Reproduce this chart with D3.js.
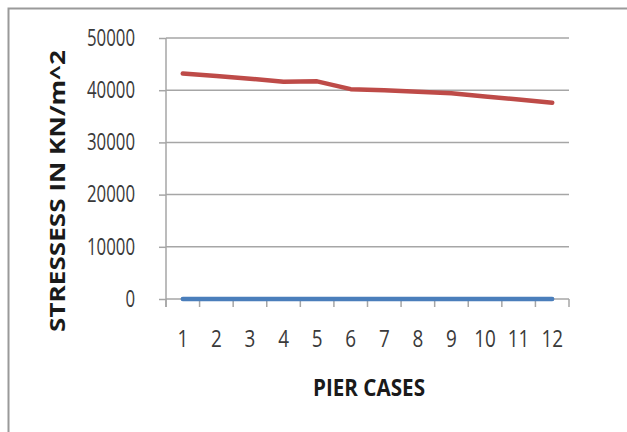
<!DOCTYPE html>
<html>
<head>
<meta charset="utf-8">
<script src="https://cdn.jsdelivr.net/npm/d3@7"></script>
<style>
  html, body { margin: 0; padding: 0; background: #fff; }
  svg { display: block; }
  .tick text { font-family: "Open Sans", sans-serif; fill: #3a3a3a; }
</style>
</head>
<body>
<svg id="chart" width="627" height="432"></svg>
<script>
// Pier cases along the x axis
const categories = ["1", "2", "3", "4", "5", "6", "7", "8", "9", "10", "11", "12"];
// Stress series (KN/m^2)
const seriesA = [43200, 42700, 42200, 41600, 41700, 40200, 40000, 39700, 39400, 38800, 38200, 37600];
const seriesB = [0, 0, 0, 0, 0, 0, 0, 0, 0, 0, 0, 0];
const yTicks = [0, 10000, 20000, 30000, 40000, 50000];

const svg = d3.select("#chart");
const W = 627, H = 432;
const plotLeft = 166, plotRight = 569, plotTop = 38, plotBottom = 299;

// Outer chart frame
svg.append("rect")
  .attr("x", 8.5).attr("y", 8.5)
  .attr("width", W).attr("height", H)
  .attr("fill", "#fff")
  .attr("stroke", "#9a9a9a").attr("stroke-width", 2);

const x = d3.scaleBand().domain(categories).range([plotLeft, plotRight]).padding(0);
const y = d3.scaleLinear().domain([0, 50000]).range([plotBottom, plotTop]);

// Horizontal gridlines
svg.append("g").selectAll("line").data(yTicks.filter(d => d > 0)).join("line")
  .attr("x1", plotLeft).attr("x2", plotRight)
  .attr("y1", d => y(d)).attr("y2", d => y(d))
  .attr("stroke", "#a6a6a6").attr("stroke-width", 1.5);

// Y axis
const yAxis = svg.append("g").attr("transform", `translate(${plotLeft},0)`)
  .call(d3.axisLeft(y).tickValues(yTicks).tickSize(7).tickPadding(24).tickFormat(d3.format("d")));
yAxis.select(".domain").attr("stroke", "#a6a6a6").attr("stroke-width", 1.5)
  .attr("d", `M0,${plotTop}V${plotBottom + 8}`);
yAxis.selectAll(".tick line").attr("stroke", "#a6a6a6").attr("stroke-width", 1.5);
yAxis.selectAll(".tick text")
  .attr("font-size", 23)
  .attr("textLength", d => String(d).length * 9.6)
  .attr("lengthAdjust", "spacingAndGlyphs");

// X axis with ticks at category boundaries
const xAxis = svg.append("g").attr("transform", `translate(0,${plotBottom})`)
  .call(d3.axisBottom(x).tickSize(0).tickPadding(31));
xAxis.select(".domain").attr("stroke", "#a6a6a6").attr("stroke-width", 1.5)
  .attr("d", `M${plotLeft},0H${plotRight}`);
xAxis.selectAll(".tick text")
  .attr("font-size", 24)
  .attr("textLength", d => d.length * 10.8)
  .attr("lengthAdjust", "spacingAndGlyphs");
xAxis.append("g").selectAll("line")
  .data(categories.map(c => x(c)).concat([x(categories[categories.length - 1]) + x.bandwidth()]))
  .join("line")
  .attr("x1", d => d).attr("x2", d => d)
  .attr("y1", 0).attr("y2", 8)
  .attr("stroke", "#a6a6a6").attr("stroke-width", 1.5);

const line = d3.line()
  .x((d, i) => x(categories[i]) + x.bandwidth() / 2)
  .y(d => y(d));

svg.append("path").datum(seriesB)
  .attr("d", line).attr("fill", "none")
  .attr("stroke", "#4a7ebb").attr("stroke-width", 4.5).attr("stroke-linecap", "round");

svg.append("path").datum(seriesA)
  .attr("d", line).attr("fill", "none")
  .attr("stroke", "#be4b48").attr("stroke-width", 4.5).attr("stroke-linecap", "round")
  .attr("stroke-linejoin", "round");

// Axis titles
svg.append("text")
  .attr("transform", `translate(65,191) rotate(-90)`)
  .attr("text-anchor", "middle")
  .attr("font-family", "Open Sans, sans-serif")
  .attr("font-weight", "bold").attr("font-size", 20.5).attr("fill", "#1a1a1a")
  .attr("textLength", 282).attr("lengthAdjust", "spacingAndGlyphs")
  .text("STRESSESS IN KN/m^2");

svg.append("text")
  .attr("x", 369).attr("y", 396)
  .attr("text-anchor", "middle")
  .attr("font-family", "Open Sans, sans-serif")
  .attr("font-weight", "bold").attr("font-size", 24).attr("fill", "#1a1a1a")
  .attr("textLength", 112).attr("lengthAdjust", "spacingAndGlyphs")
  .text("PIER CASES");
</script>
</body>
</html>
